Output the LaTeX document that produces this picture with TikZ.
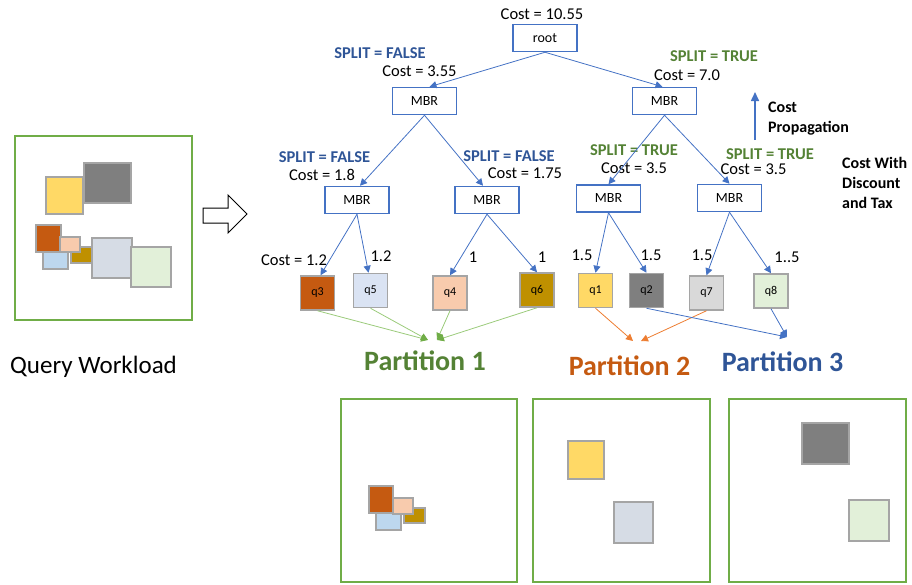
\documentclass[tikz,border=0pt]{standalone}
\usepackage{fontspec}
\setmainfont{Carlito}
\usetikzlibrary{arrows.meta}

\definecolor{mbrblue}{HTML}{4472C4}
\definecolor{splitblue}{HTML}{2F5597}
\definecolor{splitgreen}{HTML}{548235}
\definecolor{boxgreen}{HTML}{70AD47}
\definecolor{arrgreen}{HTML}{9BCB7B}
\definecolor{arrorange}{HTML}{ED7D31}
\definecolor{porange}{HTML}{C55A11}
\definecolor{rectgray}{HTML}{A5A5A5}
\definecolor{cOrange}{HTML}{C55A11}
\definecolor{cPeach}{HTML}{F8CBAD}
\definecolor{cGold}{HTML}{BF9000}
\definecolor{cYellow}{HTML}{FFD966}
\definecolor{cDark}{HTML}{7F7F7F}
\definecolor{cLight}{HTML}{D9D9D9}
\definecolor{cMint}{HTML}{E2F0D9}
\definecolor{cSky}{HTML}{BDD7EE}
\definecolor{cSteel}{HTML}{D6DCE5}
\definecolor{cPale}{HTML}{DAE3F3}

\tikzset{
  mbr/.style={draw=mbrblue, line width=1.5pt, fill=white, minimum width=64pt,
    minimum height=27pt, inner sep=0pt, font=\fontsize{14}{17}\selectfont},
  leaf/.style={draw=rectgray, line width=1.5pt, minimum width=34pt,
    minimum height=34pt, inner sep=0pt, font=\fontsize{12}{14}\selectfont},
  lbl/.style={anchor=base, inner sep=0pt, font=\fontsize{16.5}{20}\selectfont},
  splitF/.style={anchor=base, inner sep=0pt, text=splitblue,
    font=\fontsize{16.5}{20}\selectfont\bfseries},
  splitT/.style={anchor=base, inner sep=0pt, text=splitgreen,
    font=\fontsize{16.5}{20}\selectfont\bfseries},
  note/.style={anchor=base west, inner sep=0pt,
    font=\fontsize{16}{20}\selectfont\bfseries},
  part/.style={anchor=base, inner sep=0pt, font=\fontsize{28}{32}\selectfont\bfseries},
  edge/.style={draw=mbrblue, line width=0.8pt, -{Triangle[length=7pt,width=7pt]}},
  gedge/.style={draw=arrgreen, line width=0.8pt,
    -{Triangle[length=7pt,width=7pt,color=boxgreen]}},
  oedge/.style={draw=arrorange, line width=0.8pt, -{Triangle[length=7pt,width=7pt]}},
  frame/.style={draw=boxgreen, line width=2pt},
  qrect/.style={draw=rectgray, line width=1.2pt},
}

\begin{document}
\begin{tikzpicture}[x=1pt,y=-1pt]
\useasboundingbox (0,0) rectangle (912,584);

% ---------- query workload ----------
\draw[frame] (15,136) rectangle (192,320);
\filldraw[qrect, fill=cYellow] (46,177) rectangle (83,214);
\filldraw[qrect, fill=cDark] (84,163) rectangle (131,203);
\filldraw[qrect, fill=cSky] (43,247) rectangle (68,269);
\filldraw[qrect, fill=cGold] (71,247) rectangle (92,263);
\filldraw[qrect, fill=cOrange] (36,225) rectangle (61,252);
\filldraw[qrect, fill=cPeach] (60,237) rectangle (80,252);
\filldraw[qrect, fill=cSteel] (92,238) rectangle (132,278);
\filldraw[qrect, fill=cMint] (131,247) rectangle (171,287);
\node[anchor=base, inner sep=0pt, font=\fontsize{25}{30}\selectfont] (qw) at (93.5,373) {Query Workload};

% hollow arrow
\draw[line width=1pt, black, fill=white] (203,208) -- (228,208) -- (228,195) -- (247,214)
  -- (228,233) -- (228,223) -- (203,223) -- cycle;

% ---------- tree nodes ----------
\node[mbr] (root) at (545,38) {root};
\node[mbr] (m1) at (424.5,101) {MBR};
\node[mbr] (m2) at (664.5,101) {MBR};
\node[mbr] (m11) at (357,200) {MBR};
\node[mbr] (m12) at (487,200) {MBR};
\node[mbr] (m21) at (608.5,198.5) {MBR};
\node[mbr] (m22) at (729.5,198) {MBR};

\node[leaf, fill=cOrange] (q3) at (317.5,293) {q3};
\node[leaf, fill=cPale] (q5) at (370.5,290.5) {q5};
\node[leaf, fill=cPeach] (q4) at (450,293) {q4};
\node[leaf, fill=cGold] (q6) at (537,290) {q6};
\node[leaf, fill=cYellow] (q1) at (595.5,290.5) {q1};
\node[leaf, fill=cDark] (q2) at (646.5,290.5) {q2};
\node[leaf, fill=cLight] (q7) at (706.5,293) {q7};
\node[leaf, fill=cMint] (q8) at (771,291) {q8};

% ---------- labels ----------
\node[lbl] (c0) at (542,19.5) {Cost = 10.55};
\node[splitF] (s1) at (380,58) {SPLIT = FALSE};
\node[lbl] (c1) at (419.5,76.5) {Cost = 3.55};
\node[splitT] (s2) at (714,61.5) {SPLIT = TRUE};
\node[lbl] (c2) at (687,80.5) {Cost = 7.0};
\node[splitF] (s11) at (324.5,162) {SPLIT = FALSE};
\node[lbl] (c11) at (322,180) {Cost = 1.8};
\node[splitF] (s12) at (509,161.5) {SPLIT = FALSE};
\node[lbl] (c12) at (525,178) {Cost = 1.75};
\node[splitT] (s21) at (634,155) {SPLIT = TRUE};
\node[lbl] (c21) at (634,173) {Cost = 3.5};
\node[splitT] (s22) at (770,159) {SPLIT = TRUE};
\node[lbl] (c22) at (753.5,174.5) {Cost = 3.5};

\node[lbl] (l3) at (294,265) {Cost = 1.2};
\node[lbl] (l5) at (381,261) {1.2};
\node[lbl] (l4) at (473,262.5) {1};
\node[lbl] (l6) at (542,262.5) {1};
\node[lbl] (l1) at (582,260.5) {1.5};
\node[lbl] (l2) at (651,260) {1.5};
\node[lbl] (l7) at (702,260.5) {1.5};
\node[lbl] (l8) at (787,262.5) {1..5};

\node[note] (cp1) at (768,112) {Cost};
\node[note] (cp2) at (768,132) {Propagation};
\node[note] (cw1) at (842,168) {Cost With};
\node[note] (cw2) at (842,188) {Discount};
\node[note] (cw3) at (842,208) {and Tax};

% cost propagation arrow
\coordinate (cpa) at (755,140);
\coordinate (cpb) at (755,92);
\draw[mbrblue, line width=1.6pt, -{Triangle[length=9pt,width=8pt]}] (cpa) -- (cpb);

% ---------- tree edges ----------
\draw[edge] (root.south) -- ([xshift=5pt]m1.north);
\draw[edge] (root.south) -- ([xshift=-2pt]m2.north);
\draw[edge] (m1.south) -- ([xshift=3pt]m11.north);
\draw[edge] (m1.south) -- ([xshift=-4pt]m12.north);
\draw[edge] (m2.south) -- (m21.north);
\draw[edge] (m2.south) -- (m22.north);
\draw[edge] (m11.south) -- ([xshift=3pt]q3.north);
\draw[edge] (m11.south) -- ([xshift=-2pt]q5.north);
\draw[edge] (m12.south) -- (q4.north);
\draw[edge] (m12.south) -- (q6.north);
\draw[edge] (m21.south) -- (q1.north);
\draw[edge] (m21.south) -- (q2.north);
\draw[edge] (m22.south) -- (q7.north);
\draw[edge] (m22.south) -- (q8.north);

% ---------- partition arrows ----------
\coordinate (p1a) at (428,340);
\coordinate (p1b) at (437,340);
\coordinate (p2a) at (633,341);
\coordinate (p2b) at (641,341);
\coordinate (p3) at (787,337);
\draw[gedge] (q3.south) -- (p1a);
\draw[gedge] (q5.south) -- (p1a);
\draw[gedge] (q4.south) -- (p1b);
\draw[gedge] (q6.south) -- (p1b);
\draw[oedge] (q1.south) -- (p2a);
\draw[oedge] (q7.south) -- (p2b);
\draw[edge] (q2.south) -- (p3);
\draw[edge] (q8.south) -- (p3);

\node[part, text=splitgreen] (P1) at (425,370) {Partition 1};
\node[part, text=porange] (P2) at (629.5,375) {Partition 2};
\node[part, text=splitblue] (P3) at (782.5,371) {Partition 3};

% ---------- partition contents ----------
\draw[frame] (341,399) rectangle (517,582);
\filldraw[qrect, fill=cSky] (376,505) rectangle (401,530);
\filldraw[qrect, fill=cGold] (404,508) rectangle (425,523);
\filldraw[qrect, fill=cOrange] (369,486) rectangle (393,513);
\filldraw[qrect, fill=cPeach] (393,498) rectangle (413,514);

\draw[frame] (533,399) rectangle (710,582);
\filldraw[qrect, fill=cYellow] (568,441) rectangle (604,479);
\filldraw[qrect, fill=cSteel] (614,502) rectangle (653,543);

\draw[frame] (729,399) rectangle (906,582);
\filldraw[qrect, fill=cDark] (802,423) rectangle (849,464);
\filldraw[qrect, fill=cMint] (849,500) rectangle (889,541);
\end{tikzpicture}
\end{document}
